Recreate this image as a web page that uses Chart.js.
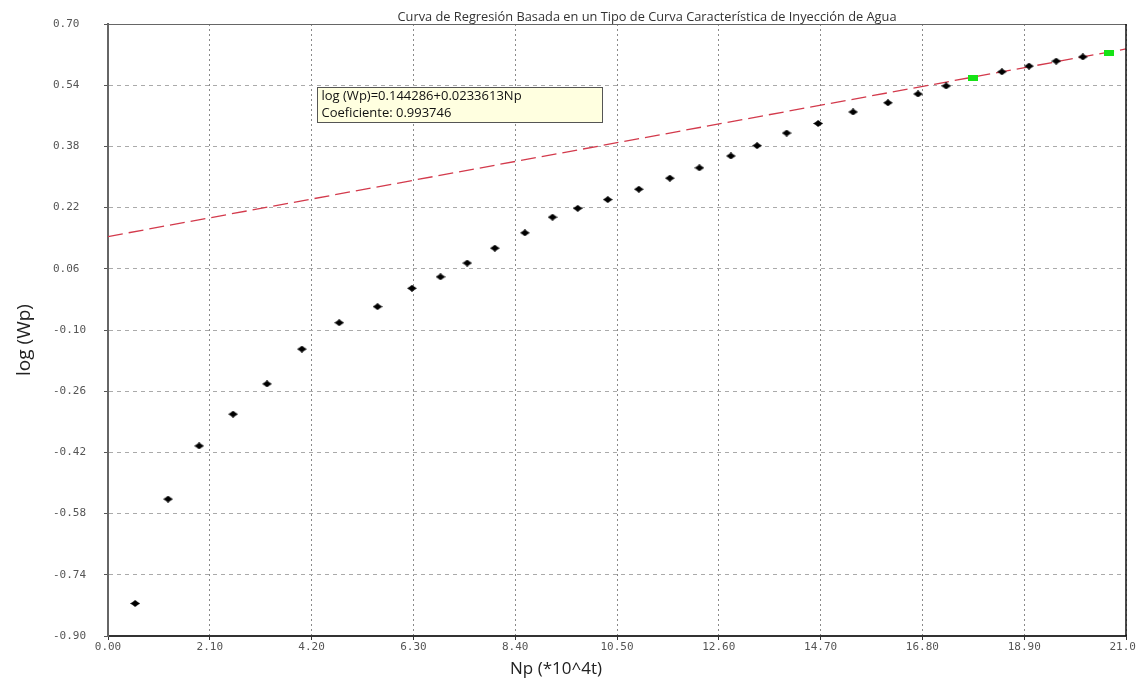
<!DOCTYPE html>
<html>
<head>
<meta charset="utf-8">
<script src="https://cdn.jsdelivr.net/npm/chart.js@4.4.1/dist/chart.umd.min.js"></script>
<style>
  html, body { margin: 0; padding: 0; background: #ffffff; overflow: hidden; }
  canvas { display: block; }
</style>
</head>
<body>
<canvas id="chart" width="1136" height="679"></canvas>
<script>
// Texts
const chartTitle = 'Curva de Regresión Basada en un Tipo de Curva Característica de Inyección de Agua';
const xAxisTitle = 'Np (*10^4t)';
const yAxisTitle = 'log (Wp)';

// Cumulative oil production (Np, *10^4 t) and log of cumulative water production
const npMeasured = [0.56, 1.24, 1.88, 2.58, 3.28, 4.00, 4.77, 5.56, 6.27, 6.86, 7.41, 7.98, 8.60, 9.17, 9.69,
  10.31, 10.95, 11.59, 12.20, 12.85, 13.39, 14.00, 14.65, 15.37, 16.09, 16.71, 17.29, 18.44, 19.00, 19.56, 20.11];
const logWpMeasured = [-0.815, -0.542, -0.403, -0.320, -0.241, -0.150, -0.081, -0.039, 0.009, 0.039, 0.075,
  0.114, 0.154, 0.195, 0.218, 0.241, 0.268, 0.297, 0.324, 0.355, 0.382, 0.415, 0.440, 0.470, 0.494, 0.517,
  0.538, 0.575, 0.590, 0.603, 0.614];

// Points marking the fitted interval
const npSelected = [17.84, 20.65];
const logWpSelected = [0.559, 0.624];

// Regression: log(Wp) = a + b * Np
const regIntercept = 0.144286;
const regSlope = 0.0233613;
const regCoefficient = 0.993746;

// Axis ticks
const xTickValues = [0.00, 2.10, 4.20, 6.30, 8.40, 10.50, 12.60, 14.70, 16.80, 18.90, 21.00];
const yTickValues = [-0.90, -0.74, -0.58, -0.42, -0.26, -0.10, 0.06, 0.22, 0.38, 0.54, 0.70];

// Marker sprites
function makeDiamond(w, h, color) {
  const c = document.createElement('canvas');
  c.width = w; c.height = h;
  const g = c.getContext('2d');
  g.fillStyle = color;
  g.beginPath();
  g.moveTo(w / 2, 0);
  g.quadraticCurveTo(w * 0.75, h * 0.3, w, h / 2);
  g.quadraticCurveTo(w * 0.75, h * 0.7, w / 2, h);
  g.quadraticCurveTo(w * 0.25, h * 0.7, 0, h / 2);
  g.quadraticCurveTo(w * 0.25, h * 0.3, w / 2, 0);
  g.closePath();
  g.fill();
  return c;
}
function makeRect(w, h, color) {
  const c = document.createElement('canvas');
  c.width = w; c.height = h;
  const g = c.getContext('2d');
  g.fillStyle = color;
  g.fillRect(0, 0, w, h);
  return c;
}
const blackMarker = makeDiamond(10, 7, '#000000');
const greenMarker = makeRect(10, 6, '#16e316');

const xMin = xTickValues[0];
const xMax = xTickValues[xTickValues.length - 1];
const regressionLine = [xMin, xMax].map(x => ({ x: x, y: regIntercept + regSlope * x }));

const tickFont = { family: "'DejaVu Sans Mono', monospace", size: 11 };

// Frame, titles and the equation box
const decorations = {
  id: 'decorations',
  afterDraw(chart) {
    const ctx = chart.ctx;
    const a = chart.chartArea;
    ctx.save();
    // top and right frame
    ctx.setLineDash([]);
    ctx.strokeStyle = '#666666';
    ctx.lineWidth = 1;
    ctx.beginPath();
    ctx.moveTo(a.left, a.top + 0.5);
    ctx.lineTo(a.right, a.top + 0.5);
    ctx.stroke();
    ctx.strokeStyle = '#111111';
    ctx.lineWidth = 1.5;
    ctx.beginPath();
    ctx.moveTo(a.right, a.top);
    ctx.lineTo(a.right, a.bottom);
    ctx.stroke();

    // chart title
    ctx.fillStyle = '#333333';
    ctx.font = "12.8px 'Open Sans', sans-serif";
    ctx.textAlign = 'center';
    ctx.textBaseline = 'alphabetic';
    ctx.fillText(chartTitle, a.left + 539, 21);

    // axis titles
    ctx.fillStyle = '#222222';
    ctx.font = "17px 'Open Sans', sans-serif";
    ctx.textBaseline = 'middle';
    ctx.fillText(xAxisTitle, a.left + 448, 669);
    ctx.save();
    ctx.translate(25, a.top + 316);
    ctx.rotate(-Math.PI / 2);
    ctx.font = "19px 'Open Sans', sans-serif";
    ctx.fillText(yAxisTitle, 0, 0);
    ctx.restore();

    // equation box
    const bx = a.left + 209.5, by = a.top + 63.5, bw = 285, bh = 35;
    ctx.fillStyle = '#ffffe0';
    ctx.fillRect(bx, by, bw, bh);
    ctx.strokeStyle = '#555555';
    ctx.lineWidth = 1;
    ctx.strokeRect(bx, by, bw, bh);
    ctx.fillStyle = '#111111';
    ctx.font = "13px 'Open Sans', sans-serif";
    ctx.textAlign = 'left';
    ctx.textBaseline = 'alphabetic';
    ctx.fillText('log (Wp)=' + regIntercept + '+' + regSlope + 'Np', bx + 4, by + 12);
    ctx.fillText('Coeficiente: ' + regCoefficient, bx + 4, by + 29);
    ctx.restore();
  }
};

new Chart(document.getElementById('chart'), {
  type: 'scatter',
  data: {
    datasets: [
      {
        label: 'Seleccionados',
        data: npSelected.map((x, i) => ({ x: x, y: logWpSelected[i] })),
        pointStyle: greenMarker,
        pointRadius: 5,
        order: 1
      },
      {
        label: 'log (Wp)',
        data: npMeasured.map((x, i) => ({ x: x, y: logWpMeasured[i] })),
        pointStyle: blackMarker,
        pointRadius: 5,
        order: 2
      },
      {
        label: 'Regresión',
        type: 'line',
        data: regressionLine,
        showLine: true,
        borderColor: '#d33a4c',
        borderWidth: 1.3,
        borderDash: [15, 6],
        pointRadius: 0,
        fill: false,
        order: 3
      }
    ]
  },
  options: {
    responsive: false,
    animation: false,
    devicePixelRatio: 1,
    layout: { padding: { left: 53, top: 24, right: 10, bottom: 0 } },
    plugins: {
      legend: { display: false },
      tooltip: { enabled: false },
      title: { display: false }
    },
    scales: {
      x: {
        type: 'linear',
        min: xMin,
        max: xMax,
        afterBuildTicks(scale) { scale.ticks = xTickValues.map(v => ({ value: v })); },
        afterFit(scale) { scale.height = 43; scale.paddingLeft = 0; scale.paddingRight = 0; },
        ticks: {
          autoSkip: false,
          maxRotation: 0,
          padding: 1,
          color: '#555555',
          font: tickFont,
          callback: v => Number(v).toFixed(2)
        },
        grid: {
          color: '#8a8a8a',
          lineWidth: 1,
          tickLength: 4,
          tickColor: '#333333',
          tickBorderDash: []
        },
        border: { display: true, color: '#333333', width: 2, dash: [2, 3] }
      },
      y: {
        type: 'linear',
        min: yTickValues[0],
        max: yTickValues[yTickValues.length - 1],
        afterBuildTicks(scale) { scale.ticks = yTickValues.map(v => ({ value: v })); },
        afterFit(scale) { scale.width = 55; scale.paddingTop = 0; scale.paddingBottom = 0; },
        ticks: {
          crossAlign: 'far',
          color: '#555555',
          font: tickFont,
          callback: v => Number(v).toFixed(2)
        },
        grid: {
          color: '#aaaaaa',
          lineWidth: 1,
          tickLength: 4,
          tickColor: '#555555',
          tickBorderDash: []
        },
        border: { display: true, color: '#666666', width: 2, dash: [4, 4] }
      }
    }
  },
  plugins: [decorations]
});
</script>
</body>
</html>
